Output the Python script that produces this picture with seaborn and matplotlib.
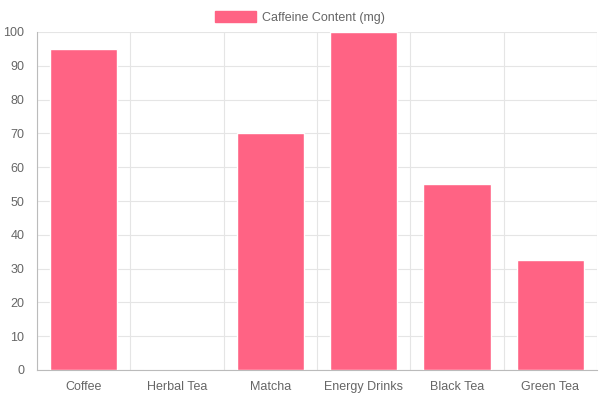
import matplotlib
matplotlib.use("Agg")
import matplotlib.pyplot as plt
import numpy as np
import pandas as pd
import seaborn as sns
from matplotlib.patches import Patch

drinks = ["Coffee", "Herbal Tea", "Matcha", "Energy Drinks", "Black Tea", "Green Tea"]
caffeine_mg = [95, 0, 70, 100, 55, 32.5]
series_label = "Caffeine Content (mg)"

bar_color = "#FF6384"
text_color = "#666666"
grid_color = "#e5e5e5"

sns.set_style("white")
plt.rcParams["font.family"] = ["Liberation Sans", "DejaVu Sans"]

df = pd.DataFrame({"drink": drinks, "caffeine": caffeine_mg})

fig = plt.figure(figsize=(6, 4), dpi=100)
ax = fig.add_axes([37 / 600, 30 / 400, 560 / 600, 338 / 400])

sns.barplot(data=df, x="drink", y="caffeine", color=bar_color, width=0.72,
            saturation=1, ax=ax, zorder=3)

n = len(drinks)
ax.set_xlim(-0.5, n - 0.5)
ax.set_ylim(0, 100)
ax.set_yticks(np.arange(0, 101, 10))
ax.set_xticks(np.arange(-0.5, n, 1), minor=True)
ax.grid(False)
ax.grid(True, which="minor", axis="x", color=grid_color, lw=0.8, zorder=0)
ax.grid(True, which="major", axis="y", color=grid_color, lw=0.8, zorder=0)

ax.tick_params(axis="x", which="major", length=0, pad=8, labelsize=9, labelcolor=text_color)
ax.tick_params(axis="x", which="minor", length=9, color="#cccccc", width=0.8)
ax.tick_params(axis="y", length=6, color=grid_color, width=0.8, pad=3,
               labelsize=9, labelcolor=text_color)
ax.set_xlabel("")
ax.set_ylabel("")

for side in ["top", "right"]:
    ax.spines[side].set_visible(False)
for side in ["left", "bottom"]:
    ax.spines[side].set_color("#bbbbbb")
    ax.spines[side].set_linewidth(0.8)

handle = Patch(facecolor=bar_color, edgecolor=bar_color, label=series_label)
fig.legend(handles=[handle], loc="upper center", bbox_to_anchor=(0.5, 1.0),
           frameon=False, fontsize=9, labelcolor=text_color,
           handlelength=3.3, handleheight=1.0, handletextpad=0.5)

fig.savefig("out.png", dpi=100)
